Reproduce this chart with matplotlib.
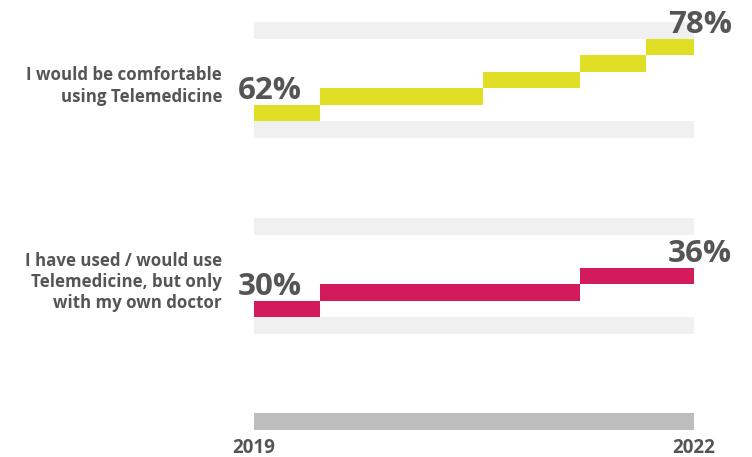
import matplotlib
matplotlib.use("Agg")
import matplotlib.pyplot as plt

plt.rcParams['font.family'] = ['Open Sans', 'DejaVu Sans']

# survey answers, step chart from 2019 to 2022
labels = ["I would be comfortable\nusing Telemedicine",
          "I have used / would use\nTelemedicine, but only\nwith my own doctor"]
steps_x = [[2019, 2019.45, 2020.56, 2021.22, 2021.67, 2022],
           [2019, 2019.45, 2021.22, 2022]]
steps_val = [[62, 66, 70, 74, 78],
             [30, 33, 36]]
row_unit = [4, 3]
colors = ["#e0df25", "#d31b5c"]
years = [2019, 2022]

txt = "#555555"
band = "#eff0ef"
W, H = 752, 457

fig = plt.figure(figsize=(W / 100, H / 100), dpi=100)


def px_axes(x0, y0, x1, y1):
    return fig.add_axes([x0 / W, (H - y1) / H, (x1 - x0) / W, (y1 - y0) / H])


panels = [(22, 138), (218, 334)]
for i, (top, bot) in enumerate(panels):
    ax = px_axes(254, top, 694, bot)
    u = row_unit[i]
    vals = steps_val[i]
    xs = steps_x[i]
    lo = vals[0] - 1.5 * u
    hi = lo + 7 * u
    ax.set_xlim(years[0], years[1])
    ax.set_ylim(lo, hi)
    # light bands above and below
    ax.barh([lo + u / 2, hi - u / 2], years[1] - years[0], left=years[0],
            height=u, color=band, linewidth=0)
    for j, v in enumerate(vals):
        ax.barh(v, xs[j + 1] - xs[j], left=xs[j], height=u,
                color=colors[i], linewidth=0)
    ax.annotate(f"{vals[0]}%", (xs[0], vals[0] + u / 2), xytext=(16, 6),
                textcoords="offset pixels", ha="center", va="baseline",
                fontsize=22.5, fontweight="bold", color=txt,
                annotation_clip=False)
    ax.annotate(f"{vals[-1]}%", (xs[-1], vals[-1] + u / 2), xytext=(6, 6),
                textcoords="offset pixels", ha="center", va="baseline",
                fontsize=22.5, fontweight="bold", color=txt,
                annotation_clip=False)
    ax.axis("off")
    fig.text(222 / W, 1 - ((top + bot) / 2 + 6) / H, labels[i], ha="right",
             va="center", fontsize=12.2, fontweight="bold", color=txt,
             linespacing=1.25)

# time axis
axt = px_axes(254, 413, 694, 430)
axt.set_xlim(years[0], years[1])
axt.set_ylim(0, 1)
axt.barh(0.5, years[1] - years[0], left=years[0], height=1,
         color="#bdbdbd", linewidth=0)
axt.axis("off")
for k, yr in enumerate(years):
    axt.annotate(str(yr), (yr, 0), xytext=(0, -18),
                 textcoords="offset pixels", ha="center", va="center",
                 fontsize=13.5, fontweight="bold", color=txt,
                 annotation_clip=False)

fig.savefig("out.png", dpi=100)
